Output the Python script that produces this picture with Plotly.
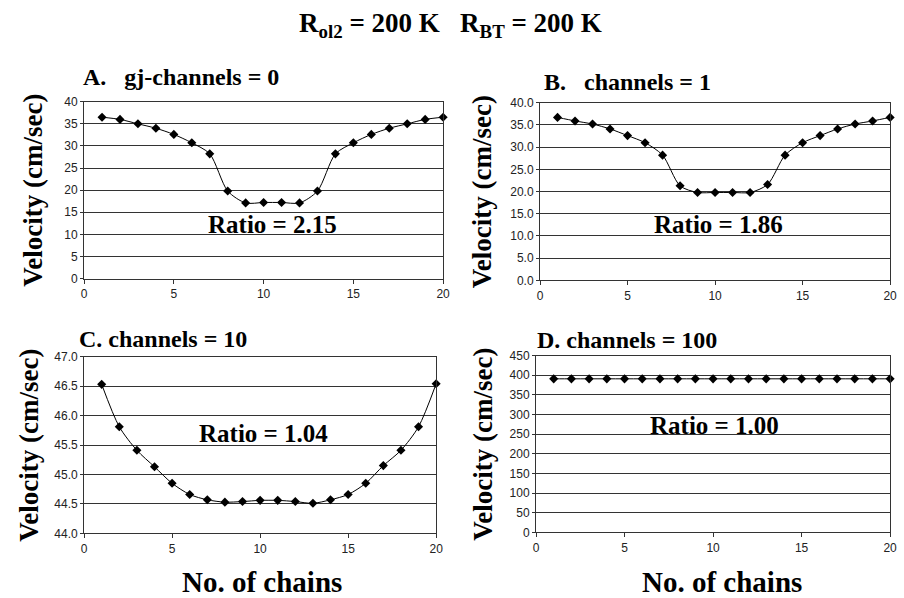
import plotly.graph_objects as go

chains = list(range(1, 21))

vel_a = [36.5, 36.0, 35.0, 34.0, 32.6, 30.7, 28.2, 19.8, 17.1, 17.2,
         17.2, 17.1, 19.8, 28.2, 30.7, 32.6, 34.0, 35.0, 36.0, 36.5]
vel_b = [36.7, 35.9, 35.2, 34.1, 32.6, 31.0, 28.2, 21.3, 19.8, 19.8,
         19.8, 19.8, 21.6, 28.2, 31.0, 32.6, 34.1, 35.2, 35.9, 36.7]
vel_c = [46.53, 45.81, 45.41, 45.13, 44.85, 44.66, 44.57, 44.53, 44.54, 44.56,
         44.56, 44.54, 44.51, 44.57, 44.66, 44.85, 45.15, 45.41, 45.81, 46.54]
vel_d = [391] * 20

panel_titles = ["A.&nbsp;&nbsp;&nbsp;gj-channels = 0", "B.&nbsp;&nbsp;&nbsp;channels = 1",
                "C. channels = 10", "D. channels = 100"]
ratio_labels = ["Ratio = 2.15", "Ratio = 1.86", "Ratio = 1.04", "Ratio = 1.00"]
y_ranges = [[0, 40], [0, 40], [44, 47], [0, 450]]
y_dticks = [5, 5, 0.5, 50]
y_formats = ["d", ".1f", ".1f", "d"]
ratio_pos = [(10.5, 12.3), (10.2, 12.5), (10.2, 45.69), (10.1, 273)]

# plot-area domains (paper coords)
x_domains = [[0.0907, 0.4923], [0.6007, 0.9923], [0.0907, 0.4845], [0.5962, 0.9923]]
y_domains = [[0.5351, 0.8378], [0.5318, 0.8361], [0.0987, 0.4013], [0.1003, 0.4030]]

serif = "Liberation Serif"
sans = "Liberation Sans"

fig = go.Figure()
series = [vel_a, vel_b, vel_c, vel_d]
layout = {}
annotations = []
for i, vals in enumerate(series):
    n = "" if i == 0 else str(i + 1)
    fig.add_trace(go.Scatter(
        x=chains, y=vals, mode="lines+markers",
        line=dict(color="black", width=1, shape="spline", smoothing=0.8),
        marker=dict(symbol="diamond", size=7, color="black"),
        cliponaxis=False, showlegend=False,
        xaxis="x" + n, yaxis="y" + n,
    ))
    layout["xaxis" + n] = dict(
        domain=x_domains[i], range=[0, 20], dtick=5, tick0=0,
        anchor="y" + n, showgrid=False, zeroline=False,
        showline=True, linecolor="#333", linewidth=1, mirror=True,
        ticks="outside", ticklen=4, tickcolor="#333",
        tickfont=dict(family=sans, size=12, color="#222"),
    )
    layout["yaxis" + n] = dict(
        domain=y_domains[i], range=y_ranges[i], dtick=y_dticks[i],
        tickformat=y_formats[i], anchor="x" + n,
        showgrid=True, gridcolor="#333", gridwidth=1, zeroline=False,
        showline=True, linecolor="#333", linewidth=1, mirror=True,
        ticks="outside", ticklen=3, tickcolor="#333",
        tickfont=dict(family=sans, size=12, color="#222"),
    )
    # ratio label
    annotations.append(dict(
        x=ratio_pos[i][0], y=ratio_pos[i][1], xref="x" + n, yref="y" + n,
        text="<b>" + ratio_labels[i] + "</b>", showarrow=False,
        font=dict(family=serif, size=25, color="black"),
    ))

# panel titles
title_pos = [(0.0870, 1 - 72 / 598), (0.6030, 1 - 77 / 598),
             (0.0830, 1 - 340 / 598), (0.5950, 1 - 341 / 598)]
for i, t in enumerate(panel_titles):
    annotations.append(dict(
        x=title_pos[i][0], y=title_pos[i][1], xref="paper", yref="paper",
        xanchor="left", yanchor="middle", text="<b>" + t + "</b>",
        showarrow=False, font=dict(family=serif, size=24, color="black"),
    ))

# y-axis titles
ytitle_x = [30 / 904, 484 / 904, 26 / 904, 485 / 904]
for i in range(4):
    annotations.append(dict(
        x=ytitle_x[i], y=sum(y_domains[i]) / 2, xref="paper", yref="paper",
        xanchor="center", yanchor="middle", textangle=-90,
        text="<b>Velocity (cm/sec)</b>", showarrow=False,
        font=dict(family=serif, size=27, color="black"),
    ))

# x-axis titles
for xc in [262 / 904, 727 / 904]:
    annotations.append(dict(
        x=xc, y=1 - 589 / 598, xref="paper", yref="paper",
        xanchor="center", yanchor="middle", text="<b>No. of chains</b>",
        showarrow=False, font=dict(family=serif, size=29, color="black"),
    ))

# main title
annotations.append(dict(
    x=0.5, y=1 - 18 / 598, xref="paper", yref="paper",
    xanchor="center", yanchor="middle",
    text="<b>R<sub>ol2</sub> = 200 K&nbsp;&nbsp;&nbsp;R<sub>BT</sub> = 200 K</b>",
    showarrow=False, font=dict(family=serif, size=27, color="black"),
))

fig.update_layout(
    width=904, height=598, margin=dict(l=0, r=0, t=0, b=0),
    paper_bgcolor="white", plot_bgcolor="white",
    annotations=annotations, **layout,
)

fig.write_html("out.html", config={"displayModeBar": False},
               post_script="document.body.style.margin='0px';document.body.style.padding='0px';")
